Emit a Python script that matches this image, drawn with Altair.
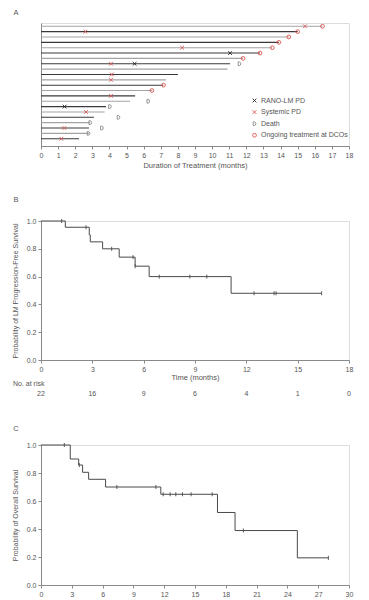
import altair as alt
import pandas as pd

FONT = "Liberation Sans"

# ---------------- Panel A data ----------------
rows = list(range(1, 23))
durations = [16.45, 15.0, 14.5, 13.9, 13.5, 12.8, 11.8, 11.05, 10.9, 8.0, 7.3,
             7.15, 6.5, 5.5, 5.2, 3.8, 3.72, 3.1, 2.85, 2.8, 2.8, 2.22]

rano_rows = [6, 8, 16]
rano_t = [11.05, 5.47, 1.38]
sys_rows = [1, 2, 5, 8, 10, 11, 14, 17, 20, 22]
sys_t = [15.43, 2.59, 8.25, 4.09, 4.14, 4.09, 4.09, 2.63, 1.36, 1.19]
death_rows = [8, 15, 16, 18, 19, 20, 21]
death_t = [11.6, 6.27, 4.03, 4.53, 2.88, 3.56, 2.78]
ongo_rows = [1, 2, 3, 4, 5, 6, 7, 12, 13]
ongo_t = [16.45, 15.0, 14.48, 13.9, 13.52, 12.8, 11.81, 7.16, 6.48]

event_types = ["RANO-LM PD", "Systemic PD", "Death", "Ongoing treatment at DCOs"]
a_ticks = list(range(0, 19))

# ---------------- Panel B data ----------------
b_t = [0, 1.42, 2.82, 2.88, 3.6, 4.57, 5.5, 6.32, 11.11, 16.4]
b_s = [1.0, 0.955, 0.90, 0.85, 0.80, 0.74, 0.675, 0.60, 0.48, 0.48]
b_cens_t = [1.21, 2.63, 4.13, 5.38, 5.5, 6.91, 8.7, 9.69, 12.45, 13.62, 13.74, 16.4]
b_cens_s = [1.0, 0.955, 0.80, 0.74, 0.675, 0.60, 0.60, 0.60, 0.48, 0.48, 0.48, 0.48]
b_ticks = [0, 3, 6, 9, 12, 15, 18]
risk_t = [0, 3, 6, 9, 12, 15, 18]
risk_n = [22, 16, 9, 6, 4, 1, 0]

# ---------------- Panel C data ----------------
c_t = [0, 2.85, 3.67, 4.05, 4.64, 6.29, 11.67, 17.19, 18.9, 24.97, 27.99]
c_s = [1.0, 0.90, 0.857, 0.805, 0.755, 0.70, 0.648, 0.518, 0.389, 0.194, 0.194]
c_cens_t = [2.27, 3.73, 7.39, 11.19, 11.9, 12.58, 13.13, 13.78, 14.62, 16.67, 19.71, 27.99]
c_cens_s = [1.0, 0.857, 0.70, 0.70, 0.648, 0.648, 0.648, 0.648, 0.648, 0.648, 0.389, 0.194]
c_ticks = [0, 3, 6, 9, 12, 15, 18, 21, 24, 27, 30]
prob_ticks = [0, 0.2, 0.4, 0.6, 0.8, 1.0]

# ---------------- styles ----------------
AX = "#8a8a8a"
LAB = "#555555"
LINE = "#4a4a4a"
RED = "#d9534f"

X_PATH = "M-1,-1L1,1M-1,1L1,-1"
D_PATH = "M-0.7,-1L-0.7,1L-0.1,1C0.95,1 0.95,-1 -0.1,-1Z"

W = 308

def axis_x(values, title, title_pad):
    return alt.Axis(values=values, title=title, grid=False, domainColor=AX, tickColor=AX,
                    tickSize=3, labelPadding=2, labelFontSize=7, labelColor=LAB, labelFont=FONT,
                    titleFontSize=7.5, titleFont=FONT, titleFontWeight="normal", titleColor=LAB,
                    titlePadding=title_pad, labelFlush=False, labelOverlap=False)

def axis_y(title):
    return alt.Axis(values=prob_ticks, format=".1f", title=title, grid=False,
                    domainColor=AX, tickColor=AX, tickSize=3, labelPadding=2, labelFontSize=7,
                    labelColor=LAB, labelFont=FONT, titleFontSize=7, titleFont=FONT,
                    titleFontWeight="normal", titleColor=LAB, titlePadding=8, labelFlush=False,
                    labelOverlap=False)

def letter(ch, dy):
    return alt.Chart(pd.DataFrame({"t": [ch]})).mark_text(
        font=FONT, fontSize=7.5, color=LAB, align="center", baseline="middle"
    ).encode(text="t:N", x=alt.value(-25), y=alt.value(dy))

# ---------------- Panel A ----------------
bars_df = pd.DataFrame({"row": rows, "dur": durations})
ev_df = pd.concat([
    pd.DataFrame({"row": rano_rows, "t": rano_t, "type": event_types[0]}),
    pd.DataFrame({"row": sys_rows, "t": sys_t, "type": event_types[1]}),
    pd.DataFrame({"row": death_rows, "t": death_t, "type": event_types[2]}),
    pd.DataFrame({"row": ongo_rows, "t": ongo_t, "type": event_types[3]}),
], ignore_index=True)

xA = alt.Scale(domain=[0, 18], nice=False, zero=False)
yA = alt.Scale(domain=[0.386, 23.36], reverse=True, nice=False, zero=False)
xA_axis = axis_x(a_ticks, "Duration of Treatment (months)", 3)
yA_axis = alt.Axis(title=None, labels=False, ticks=False, grid=False, domainColor=AX)

base_bars = alt.Chart(bars_df).transform_calculate(zero="0")
bars_odd = base_bars.transform_filter("datum.row % 2 == 1").mark_rule(
    color="#a3a3a3", strokeWidth=1.1).encode(
    x=alt.X("zero:Q", scale=xA, axis=xA_axis),
    x2="dur:Q",
    y=alt.Y("row:Q", scale=yA, axis=yA_axis),
)
bars_even = base_bars.transform_filter("datum.row % 2 == 0").mark_rule(
    color="#3a3a3a", strokeWidth=1.1).encode(
    x=alt.X("zero:Q", scale=xA, axis=xA_axis), x2="dur:Q",
    y=alt.Y("row:Q", scale=yA, axis=yA_axis))

legA = alt.Legend(orient="none", legendX=210, legendY=74, title=None,
                  labelFontSize=7, labelFont=FONT, labelColor=LAB,
                  symbolSize=14, symbolStrokeWidth=0.9, rowPadding=2.6,
                  labelOffset=3)
markers = alt.Chart(ev_df).mark_point(filled=False, strokeWidth=0.9, size=14, opacity=1).encode(
    x=alt.X("t:Q", scale=xA, axis=xA_axis),
    y=alt.Y("row:Q", scale=yA, axis=yA_axis),
    shape=alt.Shape("type:N", scale=alt.Scale(domain=event_types,
                    range=[X_PATH, X_PATH, D_PATH, "circle"]), legend=legA),
    color=alt.Color("type:N", scale=alt.Scale(domain=event_types,
                    range=["#222222", RED, "#888888", RED]), legend=legA),
)

panelA = alt.layer(bars_odd, bars_even, markers, letter("A", -10)).properties(width=W, height=123)

# ---------------- Panel B ----------------
xB = alt.Scale(domain=[0, 18], nice=False)
yS = alt.Scale(domain=[0, 1], nice=False)
xB_axis = axis_x(b_ticks, "Time (months)", 1)
yB_axis = axis_y("Probability of LM Progression-Free Survival")
b_line = alt.Chart(pd.DataFrame({"t": b_t, "s": b_s})).mark_line(
    interpolate="step-after", color=LINE, strokeWidth=1).encode(
    x=alt.X("t:Q", scale=xB, axis=xB_axis),
    y=alt.Y("s:Q", scale=yS, axis=yB_axis),
)
b_cens = alt.Chart(pd.DataFrame({"t": b_cens_t, "s": b_cens_s})).mark_point(
    shape="M0,-1L0,1", filled=False, size=16, color=LINE, strokeWidth=0.9, opacity=1).encode(
    x=alt.X("t:Q", scale=xB, axis=xB_axis), y=alt.Y("s:Q", scale=yS, axis=yB_axis))
risk = alt.Chart(pd.DataFrame({"t": risk_t, "n": risk_n})).mark_text(
    font=FONT, fontSize=7, color=LAB, baseline="middle").encode(
    x=alt.X("t:Q", scale=xB, axis=xB_axis), y=alt.value(173), text="n:Q")
risk_lab = alt.Chart(pd.DataFrame({"t": ["No. at risk"]})).mark_text(
    font=FONT, fontSize=7, color=LAB, align="left", baseline="middle").encode(
    x=alt.value(-28), y=alt.value(163), text="t:N")
panelB = alt.layer(b_line, b_cens, risk, risk_lab, letter("B", -21)).properties(width=W, height=139)

# ---------------- Panel C ----------------
xC = alt.Scale(domain=[0, 30], nice=False)
xC_axis = axis_x(c_ticks, None, 1)
yC_axis = axis_y("Probability of Overall Survival")
c_line = alt.Chart(pd.DataFrame({"t": c_t, "s": c_s})).mark_line(
    interpolate="step-after", color=LINE, strokeWidth=1).encode(
    x=alt.X("t:Q", scale=xC, axis=xC_axis),
    y=alt.Y("s:Q", scale=yS, axis=yC_axis),
)
c_cens = alt.Chart(pd.DataFrame({"t": c_cens_t, "s": c_cens_s})).mark_point(
    shape="M0,-1L0,1", filled=False, size=16, color=LINE, strokeWidth=0.9, opacity=1).encode(
    x=alt.X("t:Q", scale=xC, axis=xC_axis), y=alt.Y("s:Q", scale=yS, axis=yC_axis))
panelC = alt.layer(c_line, c_cens, letter("C", -16)).properties(width=W, height=140)

chart = alt.vconcat(panelA, panelB, panelC, spacing=26).properties(
    padding={"left": 2, "top": 0, "right": 0, "bottom": 0}
).configure_view(stroke=None).configure_axis(labelOverlap=False).configure(font=FONT)

chart.save("out.html", embed_options={"renderer": "svg", "actions": False})
